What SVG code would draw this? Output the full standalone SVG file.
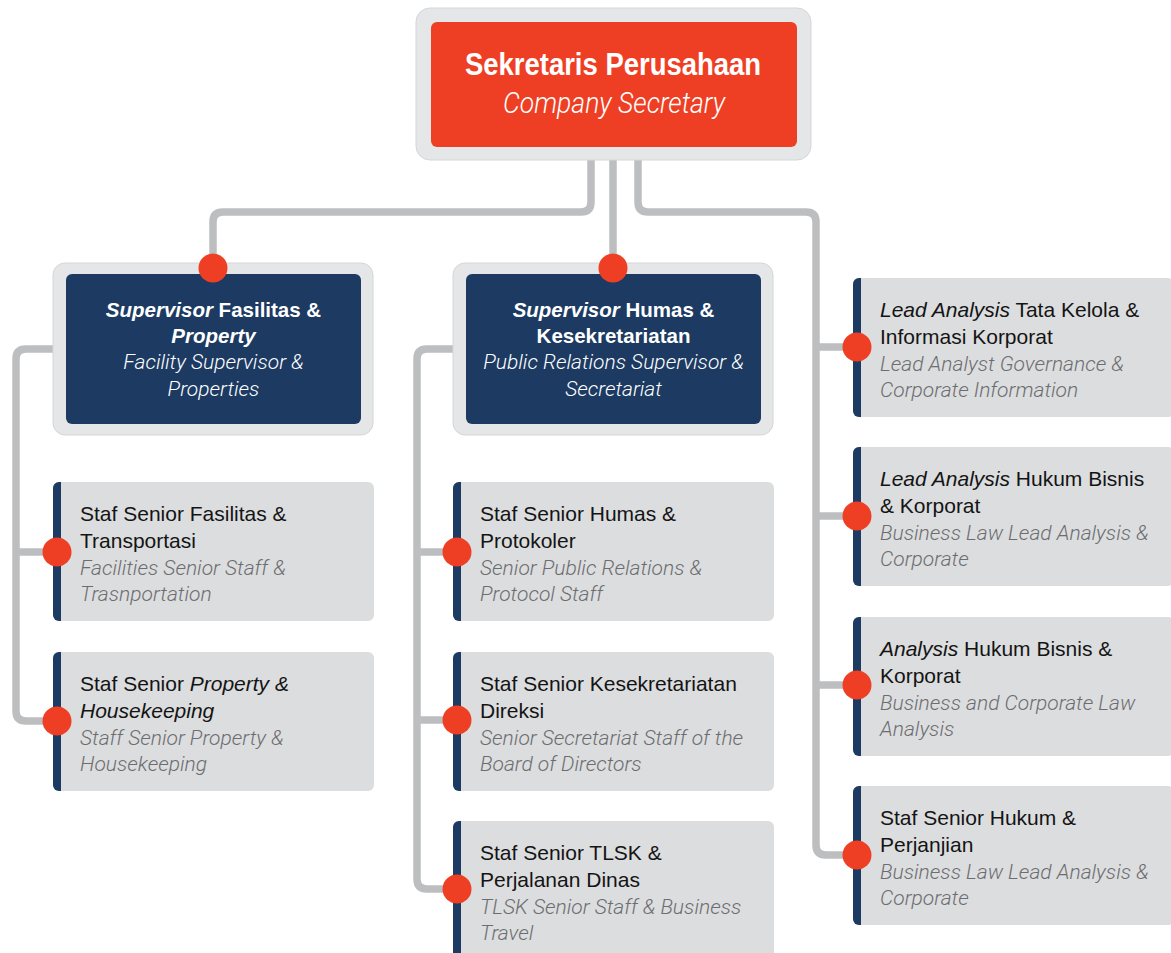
<svg xmlns="http://www.w3.org/2000/svg" xmlns:xlink="http://www.w3.org/1999/xlink" width="1171" height="953" viewBox="0 0 1171 953">
<style>
.frame{fill:#E5E6E7;stroke:#D5D6D8;stroke-width:1}
.red{fill:#EE3F24}
.navy{fill:#1C3A62}
.card{fill:#DCDDDF}
.dot{fill:#EE3F24}
.conn{fill:none;stroke:#BDBEC0;stroke-width:7.5;stroke-linejoin:round;stroke-linecap:butt}
.t{font-family:"Liberation Sans",Arial,sans-serif;font-size:21px;fill:#141414}
.s{font-family:Roboto,"Liberation Sans",sans-serif;font-weight:300;font-style:italic;font-size:21px;fill:#6C6D70}
.hb{font-family:"Liberation Sans",Arial,sans-serif;font-weight:bold;font-size:20.5px;fill:#FFFFFF}
.hs{font-family:Roboto,"Liberation Sans",sans-serif;font-weight:300;font-style:italic;font-size:21px;fill:#FFFFFF}
.i{font-style:italic}
</style>
<defs>
<g id="card">
<rect x="0" y="0" width="321" height="139" rx="6" class="card"/>
<path d="M8,0 H6 A6,6 0 0 0 0,6 V133 A6,6 0 0 0 6,139 H8 Z" class="navy"/>
</g>
</defs>

<g id="connectors">
<path class="conn" d="M591,158 V202 Q591,212 581,212 H223 Q213,212 213,222 V268"/>
<path class="conn" d="M613,158 V268"/>
<path class="conn" d="M638,158 V202 Q638,212 648,212 H806 Q816,212 816,222 V845 Q816,855 826,855 H857"/>
<path class="conn" d="M816,347 H857 M816,516 H857 M816,685 H857"/>
<path class="conn" d="M53,349 H26 Q16,349 16,359 V711 Q16,721 26,721 H57 M16,552 H57"/>
<path class="conn" d="M453,349 H427 Q417,349 417,359 V879 Q417,889 427,889 H457 M417,552 H457 M417,720 H457"/>
</g>

<g id="company-secretary">
<rect x="416" y="8" width="395" height="152" rx="14" class="frame"/>
<rect x="431" y="22" width="366" height="125" rx="6" class="red"/>
<text x="613" y="75" text-anchor="middle" font-family="'Liberation Sans',Arial,sans-serif" font-weight="bold" font-size="31" fill="#FFFFFF" textLength="296" lengthAdjust="spacingAndGlyphs">Sekretaris Perusahaan</text>
<text x="614" y="113" text-anchor="middle" font-family="Roboto,'Liberation Sans',sans-serif" font-weight="300" font-style="italic" font-size="30" fill="#FFFFFF" textLength="222" lengthAdjust="spacingAndGlyphs">Company Secretary</text>
</g>

<g id="supervisor-fasilitas">
<rect x="53" y="263" width="320" height="172" rx="12" class="frame"/>
<rect x="66" y="274" width="295" height="150" rx="6" class="navy"/>
<text class="hb" x="213.5" y="317" text-anchor="middle"><tspan class="i">Supervisor</tspan> Fasilitas &amp;</text>
<text class="hb" x="213.5" y="343" text-anchor="middle"><tspan class="i">Property</tspan></text>
<text class="hs" x="213.5" y="369" text-anchor="middle">Facility Supervisor &amp;</text>
<text class="hs" x="213.5" y="396" text-anchor="middle">Properties</text>
<circle class="dot" cx="213" cy="268" r="14.5"/>
</g>

<g id="supervisor-humas">
<rect x="453" y="263" width="320" height="172" rx="12" class="frame"/>
<rect x="466" y="274" width="295" height="150" rx="6" class="navy"/>
<text class="hb" x="613.5" y="317" text-anchor="middle"><tspan class="i">Supervisor</tspan> Humas &amp;</text>
<text class="hb" x="613.5" y="343" text-anchor="middle">Kesekretariatan</text>
<text class="hs" x="613.5" y="369" text-anchor="middle">Public Relations Supervisor &amp;</text>
<text class="hs" x="613.5" y="396" text-anchor="middle">Secretariat</text>
<circle class="dot" cx="613" cy="268" r="14.5"/>
</g>

<g id="staf-fasilitas-transportasi">
<use xlink:href="#card" x="53" y="482"/>
<text class="t" x="80" y="521">Staf Senior Fasilitas &amp;</text>
<text class="t" x="80" y="548">Transportasi</text>
<text class="s" x="80" y="575">Facilities Senior Staff &amp;</text>
<text class="s" x="80" y="601">Trasnportation</text>
<circle class="dot" cx="57" cy="552" r="14.5"/>
</g>

<g id="staf-property-housekeeping">
<use xlink:href="#card" x="53" y="652"/>
<text class="t" x="80" y="691">Staf Senior <tspan class="i">Property &amp;</tspan></text>
<text class="t" x="80" y="718"><tspan class="i">Housekeeping</tspan></text>
<text class="s" x="80" y="745">Staff Senior Property &amp;</text>
<text class="s" x="80" y="771">Housekeeping</text>
<circle class="dot" cx="57" cy="721" r="14.5"/>
</g>

<g id="staf-humas-protokoler">
<use xlink:href="#card" x="453" y="482"/>
<text class="t" x="480" y="521">Staf Senior Humas &amp;</text>
<text class="t" x="480" y="548">Protokoler</text>
<text class="s" x="480" y="575">Senior Public Relations &amp;</text>
<text class="s" x="480" y="601">Protocol Staff</text>
<circle class="dot" cx="457" cy="552" r="14.5"/>
</g>

<g id="staf-kesekretariatan-direksi">
<use xlink:href="#card" x="453" y="652"/>
<text class="t" x="480" y="691">Staf Senior Kesekretariatan</text>
<text class="t" x="480" y="718">Direksi</text>
<text class="s" x="480" y="745">Senior Secretariat Staff of the</text>
<text class="s" x="480" y="771">Board of Directors</text>
<circle class="dot" cx="457" cy="720" r="14.5"/>
</g>

<g id="staf-tlsk-perjalanan">
<use xlink:href="#card" x="453" y="821"/>
<text class="t" x="480" y="860">Staf Senior TLSK &amp;</text>
<text class="t" x="480" y="887">Perjalanan Dinas</text>
<text class="s" x="480" y="914">TLSK Senior Staff &amp; Business</text>
<text class="s" x="480" y="940">Travel</text>
<circle class="dot" cx="457" cy="889" r="14.5"/>
</g>

<g id="lead-tata-kelola">
<use xlink:href="#card" x="853" y="278"/>
<text class="t" x="880" y="317"><tspan class="i">Lead Analysis</tspan> Tata Kelola &amp;</text>
<text class="t" x="880" y="344">Informasi Korporat</text>
<text class="s" x="880" y="371">Lead Analyst Governance &amp;</text>
<text class="s" x="880" y="397">Corporate Information</text>
<circle class="dot" cx="857" cy="347" r="14.5"/>
</g>

<g id="lead-hukum-bisnis">
<use xlink:href="#card" x="853" y="447"/>
<text class="t" x="880" y="486"><tspan class="i">Lead Analysis</tspan> Hukum Bisnis</text>
<text class="t" x="880" y="513">&amp; Korporat</text>
<text class="s" x="880" y="540">Business Law Lead Analysis &amp;</text>
<text class="s" x="880" y="566">Corporate</text>
<circle class="dot" cx="857" cy="516" r="14.5"/>
</g>

<g id="analysis-hukum-bisnis">
<use xlink:href="#card" x="853" y="617"/>
<text class="t" x="880" y="656"><tspan class="i">Analysis</tspan> Hukum Bisnis &amp;</text>
<text class="t" x="880" y="683">Korporat</text>
<text class="s" x="880" y="710">Business and Corporate Law</text>
<text class="s" x="880" y="736">Analysis</text>
<circle class="dot" cx="857" cy="685" r="14.5"/>
</g>

<g id="staf-hukum-perjanjian">
<use xlink:href="#card" x="853" y="786"/>
<text class="t" x="880" y="825">Staf Senior Hukum &amp;</text>
<text class="t" x="880" y="852">Perjanjian</text>
<text class="s" x="880" y="879">Business Law Lead Analysis &amp;</text>
<text class="s" x="880" y="905">Corporate</text>
<circle class="dot" cx="857" cy="855" r="14.5"/>
</g>
</svg>
